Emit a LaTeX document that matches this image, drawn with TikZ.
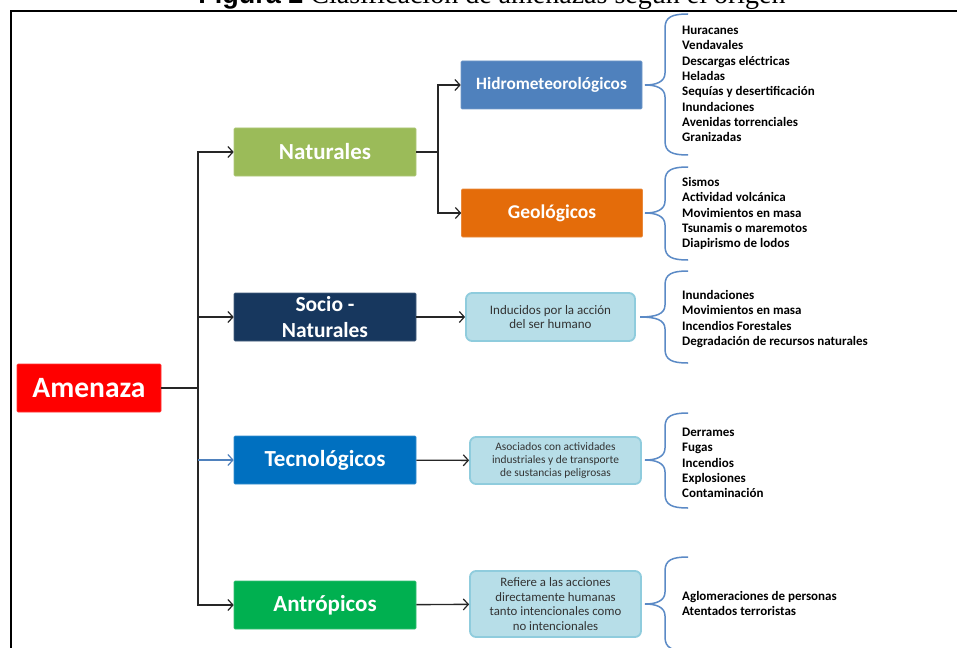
\documentclass[tikz,border=0pt]{standalone}
\usepackage{fontspec}
\setmainfont{Carlito}
\newfontfamily\titlesans{Liberation Sans}
\newfontfamily\titleserif{Liberation Serif}
\usetikzlibrary{arrows.meta}
\definecolor{cRed}{HTML}{FF0000}
\definecolor{cNat}{HTML}{9BBB59}
\definecolor{cSoc}{HTML}{17375E}
\definecolor{cTec}{HTML}{0070C0}
\definecolor{cAnt}{HTML}{00B050}
\definecolor{cHid}{HTML}{4F81BD}
\definecolor{cGeo}{HTML}{E46C0A}
\definecolor{cLight}{HTML}{B7DEE8}
\definecolor{cLightB}{HTML}{8FCCDD}
\definecolor{cBrace}{HTML}{5B8AC6}
\definecolor{cLine}{HTML}{262626}
\tikzset{
  catbox/.style={rectangle, rounded corners=1pt, draw=#1!80!white, line width=0.6pt, fill=#1,
    text=white, font=\bfseries\fontsize{23}{25}\selectfont, minimum width=182pt, minimum height=48pt,
    inner sep=0pt, align=center},
  subbox/.style={catbox=#1, font=\bfseries\fontsize{17}{20}\selectfont, minimum width=181pt},
  infobox/.style={rectangle, rounded corners=6pt, draw=cLightB, line width=1.8pt, fill=cLight,
    text=black!80, inner sep=0pt, align=center},
  listtext/.style={anchor=west, align=left, inner sep=0pt, text=black,
    font=\bfseries\fontsize{13}{15.3}\selectfont},
  conn/.style={draw=cLine, line width=1.4pt, -{Straight Barb[length=5pt,width=11pt,line width=1.2pt]}},
  bconn/.style={conn, draw=cHid},
  plain/.style={draw=cLine, line width=1.4pt},
  bracestyle/.style={draw=cBrace, line width=1.5pt},
}
\newcommand\mybrace[4]{%
  \draw[bracestyle] (688,#1) .. controls (672,#1) and (665,{#1+3}) .. (665,{#1+14})
    -- (665,{#2-12}) .. controls (665,{#2-3}) and (656,#2) .. (#4,#2)
    .. controls (656,#2) and (665,{#2+3}) .. (665,{#2+12})
    -- (665,{#3-14}) .. controls (665,{#3-3}) and (672,#3) .. (688,#3);}
\begin{document}
\begin{tikzpicture}[x=1pt,y=-1pt]
\clip (0,0) rectangle (957,647);
\fill[white] (0,0) rectangle (957,647);
% title (cut at the top)
\node[anchor=base, inner sep=0pt] (title) at (492,4)
  {\titlesans\bfseries\fontsize{27}{30}\selectfont Figura 2\hspace{7pt}\titleserif\mdseries\fontsize{28}{30}\selectfont Clasificación de amenazas según el origen};
% frame
\draw[black, line width=2pt] (11,660) -- (11,11) -- (970,11);
% main nodes
\node[catbox=cRed, minimum width=144pt, font=\bfseries\fontsize{29.5}{32}\selectfont] (amen) at (89,388) {Amenaza};
\node[catbox=cNat] (nat) at (325,152) {Naturales};
\node[catbox=cSoc, font=\bfseries\fontsize{21.5}{26}\selectfont] (soc) at (325,317) {Socio -\\Naturales};
\node[catbox=cTec] (tec) at (325,460) {Tecnológicos};
\node[catbox=cAnt] (ant) at (325,605) {Antrópicos};
\node[subbox=cHid, font=\bfseries\fontsize{17.3}{20}\selectfont] (hid) at (551.5,85) {Hidrometeorológicos};
\node[subbox=cGeo, font=\bfseries\fontsize{19.5}{22}\selectfont] (geo) at (552,213) {Geológicos};
\node[infobox, minimum width=169pt, minimum height=48pt, font=\fontsize{13}{13.5}\selectfont] (ind) at (550.5,317)
  {Inducidos por la acción\\del ser humano};
\node[infobox, minimum width=171pt, minimum height=47pt, font=\fontsize{11.4}{13}\selectfont] (aso) at (555.5,460.5)
  {Asociados con actividades\\industriales y de transporte\\de sustancias peligrosas};
\node[infobox, minimum width=171pt, minimum height=66pt, font=\fontsize{12.8}{14.7}\selectfont] (ref) at (555.5,604)
  {Refiere  a las acciones\\directamente humanas\\tanto intencionales como\\no intencionales};
% connectors
\coordinate (tr) at (198,388);
\coordinate (nj) at (438,152);
\coordinate (tj) at (198,460);
\draw[plain] (amen.east) -- (tr);
\draw[conn] (tr) |- (nat);
\draw[conn] (tr) |- (soc);
\draw[conn] (tr) |- (ant);
\draw[bconn, line width=1.1pt] (tj) -- (tec);
\draw[plain] (nat.east) -- (nj);
\draw[conn] (nj) |- (hid);
\draw[conn] (nj) |- (geo);
\draw[conn] (soc) -- (ind);
\draw[conn] (tec) -- (aso);
\draw[conn] (ant) -- (ref);
% braces
\mybrace{14}{85}{155}{645}
\mybrace{167}{213}{260}{645}
\mybrace{271}{317}{363}{640}
\mybrace{413}{460}{508}{645}
\mybrace{557}{604}{651}{645}
% lists
\node[listtext] (l1) at (682,84) {Huracanes\\Vendavales\\Descargas eléctricas\\Heladas\\Sequías y desertificación\\Inundaciones\\Avenidas torrenciales\\Granizadas};
\node[listtext] (l2) at (682,213.5) {Sismos\\Actividad volcánica\\Movimientos en masa\\Tsunamis o maremotos\\Diapirismo de lodos};
\node[listtext] (l3) at (682,319) {Inundaciones\\Movimientos en masa\\Incendios Forestales\\Degradación de recursos naturales};
\node[listtext] (l4) at (682,463) {Derrames\\Fugas\\Incendios\\Explosiones\\Contaminación};
\node[listtext] (l5) at (682,603.5) {Aglomeraciones de personas\\Atentados terroristas};
\end{tikzpicture}
\end{document}
